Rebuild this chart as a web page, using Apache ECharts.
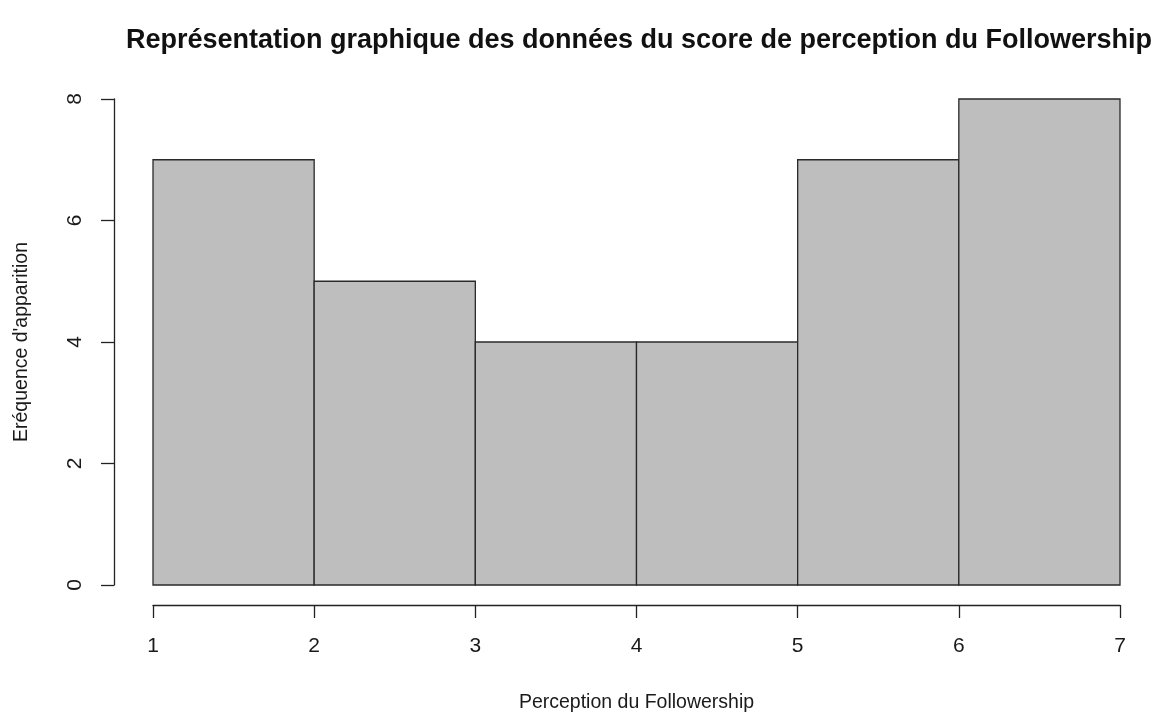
<!DOCTYPE html>
<html>
<head>
<meta charset="utf-8">
<script src="https://cdn.jsdelivr.net/npm/echarts@6/dist/echarts.min.js"></script>
<style>
  html, body { margin: 0; padding: 0; background: #ffffff; }
  #chart { width: 1161px; height: 718px; }
</style>
</head>
<body>
<div id="chart"></div>
<script>
// Histogram bins: edges and counts per bin
const binEdges = [1, 2, 3, 4, 5, 6, 7];
const counts = [7, 5, 4, 4, 7, 8];
const xTicks = [1, 2, 3, 4, 5, 6, 7];
const yTicks = [0, 2, 4, 6, 8];

const titleText = 'Représentation graphique des données du score de perception du Followership';
const xName = 'Perception du Followership';
const yName = "Eréquence d'apparition";

const bins = counts.map((c, i) => [binEdges[i], binEdges[i + 1], c]);

const font = '"Liberation Sans", Arial, sans-serif';
const ink = '#1a1a1a';

const chart = echarts.init(document.getElementById('chart'), null, { renderer: 'canvas' });

chart.setOption({
  backgroundColor: '#ffffff',
  animation: false,
  title: {
    text: titleText,
    left: 634,
    top: 22,
    textAlign: 'center',
    textStyle: { fontFamily: font, fontWeight: 'bold', fontSize: 27, color: '#111' }
  },
  grid: { left: 153, right: 41, top: 99, bottom: 129 },
  xAxis: {
    type: 'value',
    min: xTicks[0],
    max: xTicks[xTicks.length - 1],
    interval: 1,
    offset: 20,
    name: xName,
    nameLocation: 'middle',
    nameGap: 88,
    nameTextStyle: { fontFamily: font, fontSize: 19.5, color: ink },
    axisLine: { show: true, onZero: false, lineStyle: { color: '#222', width: 1.3 } },
    axisTick: { show: true, inside: false, length: 13, lineStyle: { color: '#222', width: 1.3 } },
    axisLabel: { fontFamily: font, fontSize: 21, color: ink, margin: 31 },
    splitLine: { show: false }
  },
  yAxis: {
    type: 'value',
    min: yTicks[0],
    max: yTicks[yTicks.length - 1],
    interval: 2,
    offset: 39,
    name: yName,
    nameLocation: 'middle',
    nameRotate: 90,
    nameGap: 82,
    nameTextStyle: { fontFamily: font, fontSize: 19.5, color: ink },
    axisLine: { show: true, onZero: false, lineStyle: { color: '#222', width: 1.3 } },
    axisTick: { show: true, inside: false, length: 13, lineStyle: { color: '#222', width: 1.3 } },
    axisLabel: { fontFamily: font, fontSize: 21, color: ink, rotate: 90, margin: 28 },
    splitLine: { show: false }
  },
  series: [{
    type: 'custom',
    data: bins,
    encode: { x: [0, 1], y: 2 },
    renderItem: function (params, api) {
      const p0 = api.coord([api.value(0), 0]);
      const p1 = api.coord([api.value(1), api.value(2)]);
      return {
        type: 'rect',
        shape: { x: p0[0], y: p1[1], width: p1[0] - p0[0], height: p0[1] - p1[1] },
        style: { fill: '#bebebe', stroke: '#2a2a2a', lineWidth: 1.3 }
      };
    }
  }]
});
</script>
</body>
</html>
